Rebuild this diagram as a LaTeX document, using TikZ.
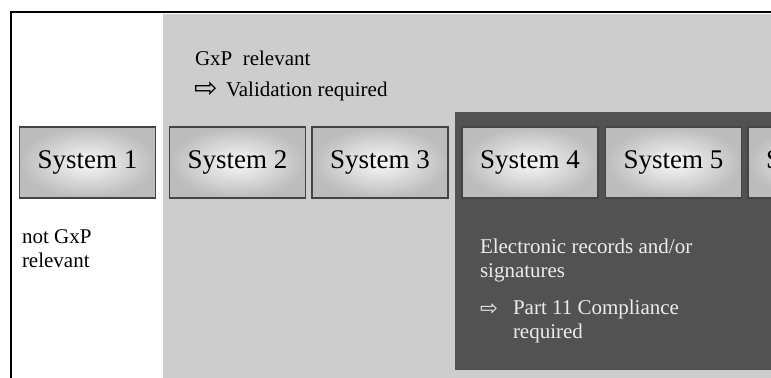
\documentclass[tikz,border=0pt]{standalone}
\usepackage{fontspec}
\setmainfont{Liberation Serif}
\newfontfamily\arrowfont{DejaVu Sans}
\usetikzlibrary{positioning}
\definecolor{lightgrey}{RGB}{205,205,205}
\definecolor{darkgrey}{RGB}{82,82,82}
\definecolor{boxline}{RGB}{68,68,68}
\definecolor{boxedge}{RGB}{188,188,188}
\definecolor{boxcentre}{RGB}{248,248,248}
\definecolor{paletext}{RGB}{236,236,236}

\begin{document}
\begin{tikzpicture}[
    x=0.75pt, y=-0.75pt,
    sysbox/.style={rectangle, draw=boxline, line width=1.1pt, inner color=boxcentre, outer color=boxedge, minimum width=102pt, minimum height=53.25pt, inner sep=0pt, outer sep=0pt, font=\fontsize{20.25}{24}\selectfont},
    note/.style={anchor=base west, inner sep=0pt, outer sep=0pt, font=\fontsize{15.75}{18}\selectfont},
    hint/.style={note, font=\arrowfont\fontsize{21}{18}\selectfont}
]
    \useasboundingbox (0,0) rectangle (771,378);
    \clip (0,0) rectangle (771,378);
    % zones
    \fill[white] (0,0) rectangle (771,378);
    \fill[lightgrey] (163,14) rectangle (771,378);
    \fill[darkgrey] (455,112) rectangle (771,370);
    \draw[line width=1.3pt] (771,12) -- (11,12) -- (11,378);

    % systems
    \node[sysbox] (sys1) at (87.5,162.5) {System 1};
    \node[sysbox] (sys2) at (237.5,162.5) {System 2};
    \node[sysbox] (sys3) at (380,162.5) {System 3};
    \node[sysbox] (sys4) at (530,162.5) {System 4};
    \node[sysbox] (sys5) at (673.5,162.5) {System 5};
    \node[sysbox] (sys6) at (816,162.5) {System 6};

    % zone texts
    \node[note] (gxp) at (195,66) {GxP\ \ relevant};
    \node[hint] (valarrow) at (194,98) {⇨};
    \node[note] (val) at (226,97) {Validation required};

    \node[note] (notgxp) at (22,243) {not GxP};
    \node[note] (notgxp2) at (22,267) {relevant};

    \node[note, text=paletext] (erec) at (480,253) {Electronic records and/or};
    \node[note, text=paletext] (erec2) at (480,277) {signatures};
    \node[hint, text=paletext, font=\arrowfont\fontsize{16}{18}\selectfont] (partarrow) at (480,315) {⇨};
    \node[note, text=paletext] (part) at (513,314) {Part 11 Compliance};
    \node[note, text=paletext] (part2) at (513,338) {required};
\end{tikzpicture}
\end{document}
